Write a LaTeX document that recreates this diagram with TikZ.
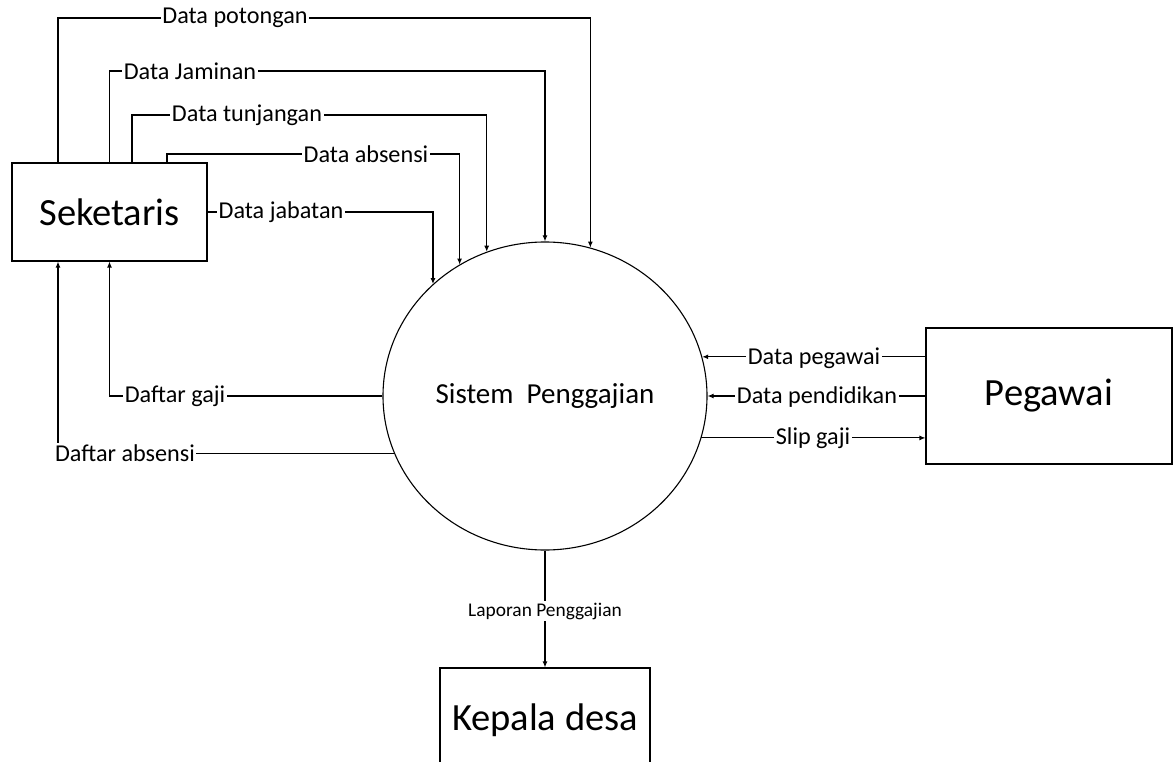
\documentclass[tikz,border=0pt]{standalone}
\usepackage{fontspec}
\setmainfont{Carlito}
\usepackage{tikz}
\usetikzlibrary{arrows.meta,shapes,positioning}

\begin{document}
\begin{tikzpicture}[
        x=1pt, y=-1pt,
        line width=1.1pt,
        entity/.style={draw, align=center, font=\fontsize{38.5}{46}\selectfont},
        process/.style={draw, ellipse, inner sep=0pt, minimum width=324pt, minimum height=308pt, font=\fontsize{29}{35}\selectfont},
        lbl/.style={fill=white, inner sep=1.5pt, font=\fontsize{24.2}{29}\selectfont},
        flow/.style={-{Latex[length=6pt,width=5pt]}}
    ]
  \useasboundingbox (0,0) rectangle (1173,762);
  \clip (0,0) rectangle (1173,762);

  % Nodes
  \node[entity, minimum width=195pt, minimum height=98pt] (sek) at (109.5,212) {Seketaris};
  \node[process] (sys) at (545,396) {Sistem~~Penggajian};
  \node[entity, minimum width=246pt, minimum height=136pt] (peg) at (1049,396) {Pegawai};
  \node[entity, minimum width=210pt, minimum height=104pt] (kep) at (545,720) {Kepala desa};

  % Seketaris -> Sistem
  \draw[flow] (sek.north -| 58,0) |- (sys.73 |- 0,18) -- (sys.73);
  \draw[flow] (sek.north) |- (sys.north |- 0,71) -- (sys.north);
  \draw[flow] (sek.north -| 132,0) |- (sys.112 |- 0,115) -- (sys.112);
  \draw[flow] (sek.north -| 167,0) |- (sys.123 |- 0,154) -- (sys.123);
  \draw[flow] (sek.east) -| (sys.135);

  % Sistem -> Seketaris
  \draw[flow] (sys.west) -| (sek.south);
  \draw[flow] (sys.201) -| (sek.south -| 58,0);

  % Pegawai
  \draw[flow] (peg.west |- sys.14) -- (sys.14);
  \draw[flow] (peg.west) -- (sys.east);
  \draw[flow] (sys.345) -- (peg.west |- sys.345);

  % Kepala desa
  \draw[flow] (sys.south) -- (kep.north);

  % Labels
  \node[lbl] (lpot) at (235,18) {Data potongan};
  \node[lbl] (ljam) at (190,71) {Data Jaminan};
  \node[lbl] (ltun) at (247,115) {Data tunjangan};
  \node[lbl] (labs) at (366,154) {Data absensi};
  \node[lbl] (ljab) at (281,212) {Data jabatan};
  \node[lbl] (lgaj) at (175,396) {Daftar gaji};
  \node[lbl] (ldab) at (125,453) {Daftar absensi};
  \node[lbl] (lpeg) at (814,358) {Data pegawai};
  \node[lbl] (lpen) at (817,397) {Data pendidikan};
  \node[lbl] (lsli) at (813,438) {Slip gaji};
  \node[lbl, font=\fontsize{19.4}{23}\selectfont] (llap) at (545,611) {Laporan Penggajian};
\end{tikzpicture}
\end{document}
